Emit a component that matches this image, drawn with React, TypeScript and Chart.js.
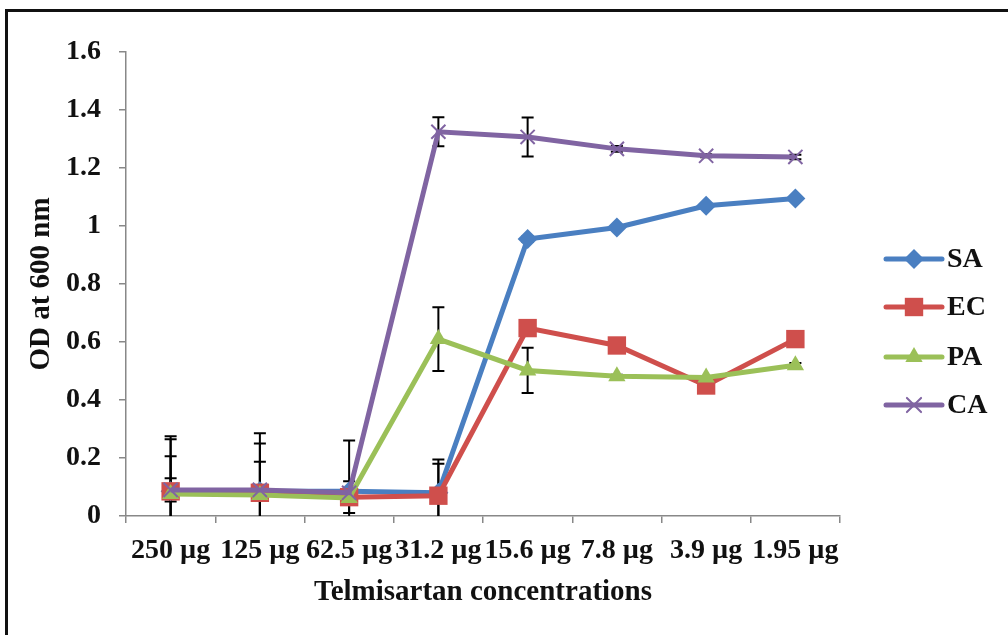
import React, { useEffect, useRef } from "react";
import { Chart, registerables } from "chart.js";

Chart.register(...registerables);

const categories = ["250 µg", "125 µg", "62.5 µg", "31.2 µg", "15.6 µg", "7.8 µg", "3.9 µg", "1.95 µg"];
const seriesNames = ["SA", "EC", "PA", "CA"];
const saValues = [0.085, 0.085, 0.085, 0.08, 0.955, 0.995, 1.07, 1.095];
const ecValues = [0.085, 0.08, 0.065, 0.07, 0.648, 0.588, 0.45, 0.61];
const paValues = [0.076, 0.072, 0.062, 0.61, 0.502, 0.482, 0.478, 0.52];
const caValues = [0.09, 0.09, 0.08, 1.325, 1.307, 1.266, 1.242, 1.238];
const saErrors = [0.19, 0.2, 0.175, 0.115, 0.01, 0.005, 0.005, 0.005];
const ecErrors = [0.18, 0.17, 0.055, 0.11, 0.01, 0.005, 0.005, 0.005];
const paErrors = [0.13, 0.115, 0.01, 0.11, 0.078, 0.005, 0.005, 0.008];
const caErrors = [0.04, 0.01, 0.01, 0.05, 0.067, 0.01, 0.005, 0.008];
const yTicks = [0, 0.2, 0.4, 0.6, 0.8, 1, 1.2, 1.4, 1.6];

const colors = ["#4a7fc1", "#cf4f4c", "#9bc058", "#8064a2"];
const styles = ["rectRot", "rect", "triangle", "crossRot"];
const radii = [10, 13, 10, 10];
const allValues = [saValues, ecValues, paValues, caValues];
const allErrors = [saErrors, ecErrors, paErrors, caErrors];

const FONT = "'Liberation Serif', 'Times New Roman', serif";

function drawMarker(ctx: CanvasRenderingContext2D, style: string, x: number, y: number, r: number, color: string) {
  ctx.save();
  ctx.fillStyle = color;
  ctx.strokeStyle = color;
  ctx.beginPath();
  if (style === "rectRot") {
    ctx.moveTo(x, y - r);
    ctx.lineTo(x + r, y);
    ctx.lineTo(x, y + r);
    ctx.lineTo(x - r, y);
    ctx.closePath();
    ctx.fill();
  } else if (style === "rect") {
    const s = r * Math.SQRT1_2;
    ctx.rect(x - s, y - s, 2 * s, 2 * s);
    ctx.fill();
  } else if (style === "triangle") {
    ctx.moveTo(x, y - r);
    ctx.lineTo(x + r * 0.866, y + r * 0.5);
    ctx.lineTo(x - r * 0.866, y + r * 0.5);
    ctx.closePath();
    ctx.fill();
  } else {
    const d = r * Math.SQRT1_2;
    ctx.lineWidth = 2;
    ctx.moveTo(x - d, y - d);
    ctx.lineTo(x + d, y + d);
    ctx.moveTo(x + d, y - d);
    ctx.lineTo(x - d, y + d);
    ctx.stroke();
  }
  ctx.restore();
}

const framePlugin = {
  id: "frame",
  beforeDraw(chart: any) {
    const ctx = chart.ctx;
    ctx.save();
    ctx.fillStyle = "#ffffff";
    ctx.fillRect(0, 0, chart.width, chart.height);
    ctx.fillStyle = "#111111";
    ctx.fillRect(5, 9, chart.width - 5, 3);
    ctx.fillRect(5, 9, 3, chart.height - 9);
    ctx.restore();
  },
};

const errorBarPlugin = {
  id: "errorBars",
  beforeDatasetsDraw(chart: any) {
    const ctx = chart.ctx;
    const area = chart.chartArea;
    const xs = chart.scales.x;
    const ys = chart.scales.y;
    ctx.save();
    ctx.beginPath();
    ctx.rect(area.left, area.top - 2, area.right - area.left, area.bottom - area.top + 2);
    ctx.clip();
    ctx.strokeStyle = "#000000";
    ctx.lineWidth = 2;
    allValues.forEach((vals, si) => {
      vals.forEach((v, i) => {
        const e = allErrors[si][i];
        const x = xs.getPixelForValue(i);
        const yTop = ys.getPixelForValue(v + e);
        const yBot = ys.getPixelForValue(v - e);
        ctx.beginPath();
        ctx.moveTo(x, yTop);
        ctx.lineTo(x, yBot);
        ctx.moveTo(x - 6, yTop);
        ctx.lineTo(x + 6, yTop);
        ctx.moveTo(x - 6, yBot);
        ctx.lineTo(x + 6, yBot);
        ctx.stroke();
      });
    });
    ctx.restore();
  },
};

const legendPlugin = {
  id: "customLegend",
  afterDraw(chart: any) {
    const ctx = chart.ctx;
    const rowY = [259, 307, 357, 405];
    ctx.save();
    chart.data.datasets.forEach((ds: any, i: number) => {
      const y = rowY[i];
      ctx.strokeStyle = colors[i];
      ctx.lineWidth = 5;
      ctx.lineCap = "round";
      ctx.beginPath();
      ctx.moveTo(886, y);
      ctx.lineTo(942, y);
      ctx.stroke();
      drawMarker(ctx, styles[i], 914, y, radii[i], colors[i]);
      ctx.fillStyle = "#111111";
      ctx.font = `bold 28px ${FONT}`;
      ctx.textBaseline = "middle";
      ctx.textAlign = "left";
      ctx.fillText(ds.label, 947, y + 1);
    });
    ctx.restore();
  },
};

export default function App() {
  const ref = useRef<HTMLCanvasElement | null>(null);
  useEffect(() => {
    if (!ref.current) return;
    const datasets = seriesNames.map((name, i) => ({
      label: name,
      data: allValues[i],
      borderColor: colors[i],
      backgroundColor: colors[i],
      borderWidth: 5,
      pointStyle: styles[i],
      pointRadius: radii[i],
      pointBorderWidth: i === 3 ? 2 : 0,
      pointBackgroundColor: colors[i],
      pointBorderColor: colors[i],
      tension: 0,
      order: 3 - i,
    }));
    const chart = new Chart(ref.current, {
      type: "line",
      data: { labels: categories, datasets },
      options: {
        animation: false,
        responsive: false,
        events: [],
        layout: { padding: { left: 0, right: 168, top: 52, bottom: 0 } },
        plugins: { legend: { display: false }, tooltip: { enabled: false } },
        scales: {
          x: {
            type: "category",
            offset: true,
            afterFit(scale: any) {
              scale.height = 119;
            },
            grid: { offset: true, drawOnChartArea: false, drawTicks: true, tickLength: 7, color: "#888888", lineWidth: 1.5 },
            border: { display: true, color: "#888888", width: 1.5 },
            ticks: {
              autoSkip: false,
              maxRotation: 0,
              minRotation: 0,
              color: "#111111",
              padding: 11,
              font: { family: FONT, size: 28, weight: "bold" },
            },
            title: {
              display: true,
              text: "Telmisartan concentrations",
              color: "#111111",
              font: { family: FONT, size: 29, weight: "bold" },
              padding: { top: 0, bottom: 25 },
            },
          },
          y: {
            min: 0,
            max: 1.6,
            afterFit(scale: any) {
              scale.width = 126;
            },
            afterBuildTicks(scale: any) {
              scale.ticks = yTicks.map((v) => ({ value: v }));
            },
            grid: { drawOnChartArea: false, drawTicks: true, tickLength: 7, color: "#888888", lineWidth: 1.5 },
            border: { display: true, color: "#888888", width: 1.5 },
            ticks: {
              color: "#111111",
              padding: 18,
              font: { family: FONT, size: 28, weight: "bold" },
              callback: (v: any) => String(Number(v)),
            },
            title: {
              display: true,
              text: "OD at 600 nm",
              color: "#111111",
              font: { family: FONT, size: 29, weight: "bold" },
              padding: { top: 24, bottom: 0 },
            },
          },
        },
      },
      plugins: [framePlugin, errorBarPlugin, legendPlugin],
    } as any);
    return () => chart.destroy();
  }, []);
  return (
    <div style={{ position: "absolute", left: 0, top: 0, width: 1008, height: 635 }}>
      <canvas ref={ref} width={1008} height={635} />
    </div>
  );
}
